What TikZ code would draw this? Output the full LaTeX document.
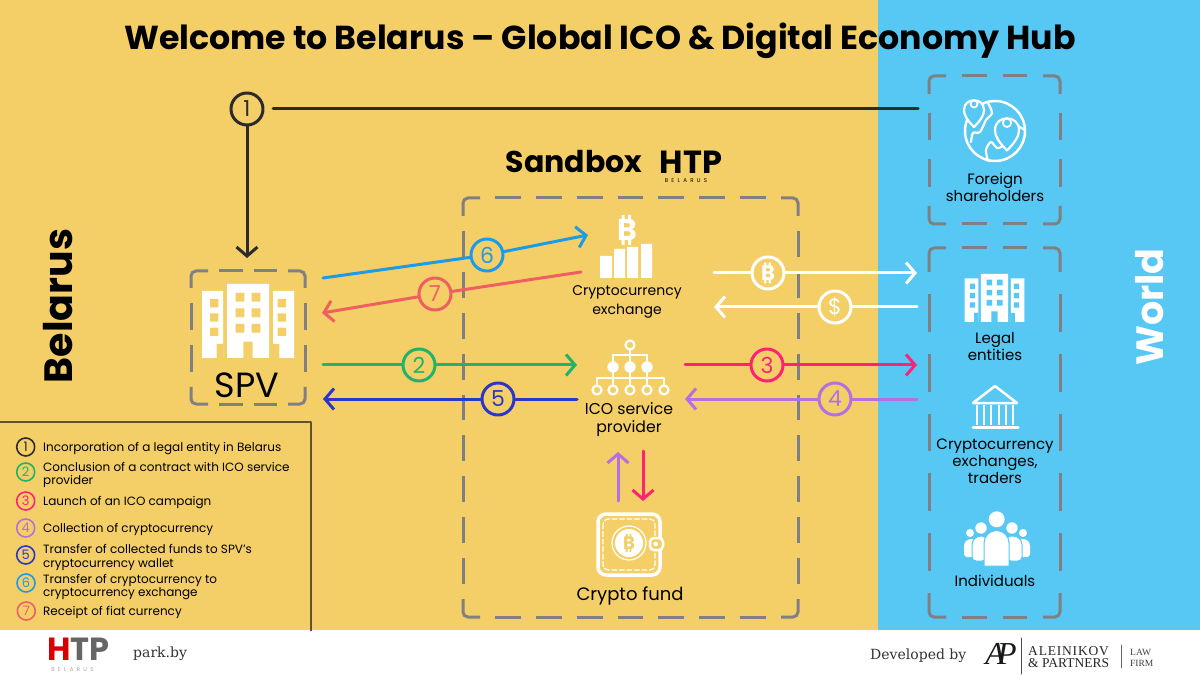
\documentclass[tikz,border=0pt]{standalone}
\usepackage{fontspec}
\usetikzlibrary{arrows.meta}
\setmainfont{Poppins}
\newfontfamily\slabfont{DejaVu Serif}
\newfontfamily\romanfont{Liberation Serif}
\newfontfamily\spacedfont[LetterSpace=60]{Poppins}
\definecolor{bgyellow}{HTML}{F4CF67}
\definecolor{bgblue}{HTML}{56C8F3}
\definecolor{boxgray}{HTML}{808084}
\definecolor{cone}{HTML}{2B2B2B}
\definecolor{ctwo}{HTML}{1FB46A}
\definecolor{cthree}{HTML}{FF2378}
\definecolor{cfour}{HTML}{B46FE0}
\definecolor{cfive}{HTML}{2B37C8}
\definecolor{csix}{HTML}{1E9BE8}
\definecolor{cseven}{HTML}{EE5F62}
\newcommand{\fs}[2]{\fontsize{#1}{#2}\selectfont}
\tikzset{
	pics/building/.style={code={
		\fill[white] (-46,0) rectangle (-25,-67) (-21,0) rectangle (21,-74) (25,0) rectangle (46,-67);
		\fill[#1] (-4.7,0) rectangle (4.7,-16.3) (-31.3,0) rectangle (-25,-14) (25,0) rectangle (31.3,-14);
		\foreach \wy in {-65,-49.5,-34}{\fill[#1] (-12.3,\wy) rectangle (-3.6,\wy+8.7) (3.7,\wy) rectangle (12.4,\wy+8.7);}
		\foreach \wy in {-59,-44.7,-30.3}{\fill[#1] (-38,\wy) rectangle (-29.7,\wy+8.3) (29.7,\wy) rectangle (38,\wy+8.3);}
	}},
	pics/btc/.style={code={
		\node[transform shape,text=#1,inner sep=0pt,font=\fs{30}{30}\bfseries] (-b) at (0,0) {B};
		\fill[#1] (-5.5,-15) rectangle (-2.5,-9) (1,-15) rectangle (4,-9) (-5.5,15) rectangle (-2.5,9) (1,15) rectangle (4,9);
	}},
	pics/pin/.style={code={
		\draw[white,fill=bgblue,line width=2.2pt] (0,17) .. controls (-7,10) and (-10,5) .. (-10,0) .. controls (-10,-13) and (10,-13) .. (10,0) .. controls (10,5) and (7,10) .. (0,17) -- cycle;
		\draw[white,fill=bgblue,line width=1.8pt] (0,-6) circle (3.5);
	}}
}
\begin{document}
\begin{tikzpicture}[x=1pt, y=-1pt, line join=round, line cap=round,
	>={Straight Barb[length=9pt,width=21pt]},
	lbl/.style={align=center, inner sep=0pt, text=black, font=\fs{15}{16.8}},
	legtxt/.style={align=left, anchor=west, inner sep=0pt, text=black, font=\fs{12}{13.4}},
	numcirc/.style={circle, draw=#1, text=#1, fill=bgyellow, line width=3pt, minimum size=32pt, inner sep=0pt, font=\fs{22}{22}},
	legcirc/.style={circle, draw=#1, text=#1, line width=1.6pt, minimum size=18pt, inner sep=0pt, font=\fs{13}{13}},
	flow/.style={line width=3pt, draw=#1},
	boxline/.style={draw=boxgray, line width=3pt, line cap=butt}]
	\useasboundingbox (0,0) rectangle (1200,676);
	\fill[white] (0,0) rectangle (1200,676);
	\fill[bgyellow] (0,0) rectangle (878,630);
	\fill[bgblue] (878,0) rectangle (1200,630);
	\draw[draw=black!60!bgyellow, line width=1.5pt, line cap=butt] (0,422) -- (311,422) -- (311,631);
	% dashed frames
	\foreach \xa/\ya/\xb/\yb/\nh/\gh/\nv/\gv/\av in {463/198/798/617/7/15/9/15/18, 929/76/1060/224/2/16/2/19/18, 929/248/1060/617/2/16/5/22/24, 191/271/305/404/2/11/2/15/17}{
		\pgfmathsetmacro\dh{(\xb-\xa-34-(\nh+1)*\gh)/\nh}
		\pgfmathsetmacro\dv{(\yb-\ya-2*\av-(\nv+1)*\gv)/\nv}
		\draw[boxline, rounded corners=5pt] (\xa,\ya+\av) -- (\xa,\ya) -- (\xa+17,\ya);
		\draw[boxline, rounded corners=5pt] (\xb-17,\ya) -- (\xb,\ya) -- (\xb,\ya+\av);
		\draw[boxline, rounded corners=5pt] (\xb,\yb-\av) -- (\xb,\yb) -- (\xb-17,\yb);
		\draw[boxline, rounded corners=5pt] (\xa+17,\yb) -- (\xa,\yb) -- (\xa,\yb-\av);
		\draw[boxline, dash pattern=on \dh pt off \gh pt] (\xa+17+\gh,\ya) -- (\xb-17-\gh,\ya);
		\draw[boxline, dash pattern=on \dh pt off \gh pt] (\xa+17+\gh,\yb) -- (\xb-17-\gh,\yb);
		\draw[boxline, dash pattern=on \dv pt off \gv pt] (\xa,\ya+\av+\gv) -- (\xa,\yb-\av-\gv);
		\draw[boxline, dash pattern=on \dv pt off \gv pt] (\xb,\ya+\av+\gv) -- (\xb,\yb-\av-\gv);
	}
	% titles
	\node[inner sep=0pt, font=\fs{33.2}{33.2}\bfseries] (title) at (600,41) {Welcome to Belarus -- Global ICO \& Digital Economy Hub};
	\node[inner sep=0pt, font=\fs{30}{30}\bfseries] (sandbox) at (574,162) {Sandbox};
	\node[inner sep=0pt, font=\fs{32}{32}\bfseries] (htptop) at (691,162) {HTP};
	\node[inner sep=0pt, font=\spacedfont\fs{5.5}{5.5}] (htpsub) at (686,181) {BELARUS};
	\node[rotate=90, inner sep=0pt, font=\fs{39.5}{39.5}\bfseries] (belarus) at (58,306) {Belarus};
	\node[rotate=90, inner sep=0pt, text=white, font=\fs{38}{38}\bfseries] (world) at (1150,307) {World};
	% icons
	\pic[scale=1] at (248,358) {building=bgyellow};
	\pic[scale=.65] at (994.5,322) {building=bgblue};
	\pic at (627,230) {btc=white};
	\fill[white] (600,256) rectangle (612,278) (614,249) rectangle (625,278) (627,247) rectangle (638,278) (641,244) rectangle (652,278);
	% tree icon
	\draw[white, line width=2.2pt] (630,350) -- (630,390) (613,367) -- (613,355) -- (647,355) -- (647,367) (597,390) -- (597,378) -- (664,378) -- (664,390) (613,367) -- (613,390) (647,367) -- (647,390);
	\draw[white, line width=2.2pt, fill=bgyellow] (630,345) circle (4.5);
	\foreach \tx in {613,630,647}{\fill[white] (\tx,367) circle (5.7);}
	\foreach \tx in {597,613,630,647,664}{\draw[white, line width=2.2pt, fill=bgyellow] (\tx,390) circle (4.5);}
	% wallet
	\draw[white, line width=3.5pt, rounded corners=8pt] (598,514) rectangle (660,575);
	\draw[white, line width=1.2pt, rounded corners=5pt, dash pattern=on 5pt off 2.5pt] (603,519) rectangle (655,570);
	\draw[white, line width=1.2pt] (629,543) circle (17);
	\fill[white] (629,543) circle (14);
	\pic[scale=.6] at (629,543) {btc=bgyellow};
	\draw[white, fill=bgyellow, line width=2.5pt, rounded corners=4pt] (650,538) rectangle (663,550);
	\fill[white] (655.7,544) circle (2.4);
	% globe
	\draw[white, line width=2.5pt] (995,131) circle (30);
	\draw[white, line width=2.2pt] plot[smooth] coordinates {(988,103) (992,113) (986,120) (980,132) (973,133) (971,142)};
	\draw[white, line width=2.2pt] plot[smooth] coordinates {(988,161) (986,150) (991,142) (997,148) (1003,146)};
	\draw[white, line width=2.2pt] (1018,126) -- (1025,130);
	\pic at (974,110) {pin};
	\pic[scale=1.2] at (1007,130) {pin};
	% bank
	\draw[white, line width=2.5pt] (973,403) -- (995,386) -- (1017,403) -- cycle;
	\foreach \bx in {977,984,991,999,1006,1013}{\draw[white, line width=2pt, line cap=butt] (\bx,405) -- (\bx,425);}
	\draw[white, line width=3pt] (973,427) -- (1018,427);
	% people
	\foreach \px/\py/\pr in {970/533/4, 1023/533/4, 981/528/5.7, 1012/528/5.7, 996.7/519.3/8}{\fill[white] (\px,\py) circle (\pr);}
	\fill[white, rounded corners=3pt] (964,557) -- (964,543) -- (968,539) -- (975,539) -- (975,557) -- cycle;
	\fill[white, rounded corners=3pt] (1030,557) -- (1030,543) -- (1026,539) -- (1019,539) -- (1019,557) -- cycle;
	\fill[white, draw=bgblue, line width=1pt, rounded corners=4pt] (972,561) -- (972,541) -- (977,536) -- (986,536) -- (986,561) -- cycle;
	\fill[white, draw=bgblue, line width=1pt, rounded corners=4pt] (1022,561) -- (1022,541) -- (1017,536) -- (1007,536) -- (1007,561) -- cycle;
	\fill[white, draw=bgblue, line width=1pt] (984,566) -- (984,543) arc (180:360:12.5) -- (1009,566) -- cycle;
	% labels
	\node[lbl, font=\fs{14}{19}] (exlabel) at (627,301.5) {Cryptocurrency\\exchange};
	\node[lbl, font=\fs{15.7}{18}] (icolabel) at (629,420) {ICO service\\provider};
	\node[lbl, font=\fs{18}{18}] (fundlabel) at (630,596) {Crypto fund};
	\node[lbl, font=\fs{35}{35}] (spvlabel) at (247,385) {SPV};
	\node[lbl] (sharelabel) at (995,187) {Foreign\\shareholders};
	\node[lbl] (entlabel) at (995,346.5) {Legal\\entities};
	\node[lbl] (traderlabel) at (995,461.5) {Cryptocurrency\\exchanges,\\traders};
	\node[lbl] (indlabel) at (995,581) {Individuals};
	% connector ends
	\coordinate (oneR) at (273,109);
	\coordinate (shareL) at (918,109);
	\coordinate (spvTop) at (247,258);
	\coordinate (sixA) at (323,278);
	\coordinate (sixB) at (588,235);
	\coordinate (sevenA) at (581,272);
	\coordinate (sevenB) at (322,313);
	\coordinate (twoA) at (323,365);
	\coordinate (twoB) at (577,365);
	\coordinate (fiveA) at (577,399);
	\coordinate (fiveB) at (323,399);
	\coordinate (threeA) at (685,365);
	\coordinate (threeB) at (917,365);
	\coordinate (fourA) at (917,399);
	\coordinate (fourB) at (685,399);
	\coordinate (btcA) at (714,273);
	\coordinate (btcB) at (917,273);
	\coordinate (usdA) at (917,307);
	\coordinate (usdB) at (714,307);
	\coordinate (upA) at (618,501);
	\coordinate (upB) at (618,452);
	\coordinate (downA) at (643,451);
	\coordinate (downB) at (643,501);
	% numbered circles
	\node[numcirc=cone] (n1) at (247,109) {1};
	\node[numcirc=ctwo] (n2) at (419,365) {2};
	\node[numcirc=cthree] (n3) at (767,365) {3};
	\node[numcirc=cfour] (n4) at (835,399) {4};
	\node[numcirc=cfive] (n5) at (498,399) {5};
	\node[numcirc=csix] (n6) at (487,255) {6};
	\node[numcirc=cseven] (n7) at (435,294) {7};
	\node[numcirc=white] (ncoin) at (768,273) {};
	\pic[scale=.7] at (768,273) {btc=white};
	\node[numcirc=white] (nusd) at (835,307) {\$};
	% arrows
	\draw[flow=cone] (oneR) -- (shareL);
	\draw[flow=cone, ->] (n1) -- (spvTop);
	\draw[flow=csix] (sixA) -- (n6);
	\draw[flow=csix, ->] (n6) -- (sixB);
	\draw[flow=cseven] (sevenA) -- (n7);
	\draw[flow=cseven, ->] (n7) -- (sevenB);
	\draw[flow=ctwo] (twoA) -- (n2);
	\draw[flow=ctwo, ->] (n2) -- (twoB);
	\draw[flow=cfive] (fiveA) -- (n5);
	\draw[flow=cfive, ->] (n5) -- (fiveB);
	\draw[flow=cthree] (threeA) -- (n3);
	\draw[flow=cthree, ->] (n3) -- (threeB);
	\draw[flow=cfour] (fourA) -- (n4);
	\draw[flow=cfour, ->] (n4) -- (fourB);
	\draw[flow=white] (btcA) -- (ncoin);
	\draw[flow=white, ->] (ncoin) -- (btcB);
	\draw[flow=white] (usdA) -- (nusd);
	\draw[flow=white, ->] (nusd) -- (usdB);
	\draw[flow=cfour, ->] (upA) -- (upB);
	\draw[flow=cthree, ->] (downA) -- (downB);
	% legend
	\node[legcirc=cone] (l1) at (25.7,447) {1};
	\node[legcirc=ctwo] (l2) at (25.7,472) {2};
	\node[legcirc=cthree] (l3) at (25.7,501) {3};
	\node[legcirc=cfour] (l4) at (25.7,528) {4};
	\node[legcirc=cfive] (l5) at (25.7,555) {5};
	\node[legcirc=csix] (l6) at (26,583) {6};
	\node[legcirc=cseven] (l7) at (26.3,611) {7};
	\node[legtxt] (t1) at (43,448.5) {Incorporation of a legal entity in Belarus};
	\node[legtxt] (t2) at (43,475) {Conclusion of a contract with ICO service\\provider};
	\node[legtxt] (t3) at (43,502.5) {Launch of an ICO campaign};
	\node[legtxt] (t4) at (43,529.5) {Collection of cryptocurrency};
	\node[legtxt] (t5) at (43,557.5) {Transfer of collected funds to SPV's\\cryptocurrency wallet};
	\node[legtxt] (t6) at (43,587) {Transfer of cryptocurrency to\\cryptocurrency exchange};
	\node[legtxt] (t7) at (43,612.5) {Receipt of fiat currency};
	% footer
	\node[inner sep=0pt, anchor=west, font=\fs{32}{32}\bfseries] (htplogo) at (47,649) {\textcolor{red!85!black}{H}\textcolor{black!60}{TP}};
	\node[inner sep=0pt, text=black!35, font=\spacedfont\fs{5.5}{5.5}] (htplogosub) at (72.5,670) {BELARUS};
	\node[inner sep=0pt, anchor=west, text=black!80, font=\slabfont\fs{14}{14}] (parkby) at (133,654) {park.by};
	\node[inner sep=0pt, anchor=west, text=black!80, font=\slabfont\fs{14}{14}] (devby) at (870,656) {Developed by};
	\node[inner sep=0pt, text=black!90, font=\romanfont\itshape\fs{32}{32}] (aplogo) at (1001,654) {A\kern-8pt P};
	\draw[black!70, line width=.8pt] (1021,638) -- (1021,674);
	\node[inner sep=0pt, anchor=west, text=black!85, font=\romanfont\fs{13.5}{13.5}\addfontfeature{LetterSpace=6}] (firma) at (1028,651) {ALEINIKOV};
	\node[inner sep=0pt, anchor=west, text=black!85, font=\romanfont\fs{13.5}{13.5}] (firmb) at (1028,663) {\& PARTNERS};
	\draw[black!60, line width=.8pt] (1121,645) -- (1121,668);
	\node[inner sep=0pt, anchor=west, text=black!75, font=\romanfont\fs{9.5}{9.5}] (lawa) at (1130,652) {LAW};
	\node[inner sep=0pt, anchor=west, text=black!75, font=\romanfont\fs{9.5}{9.5}] (lawb) at (1130,663) {FIRM};
\end{tikzpicture}
\end{document}
